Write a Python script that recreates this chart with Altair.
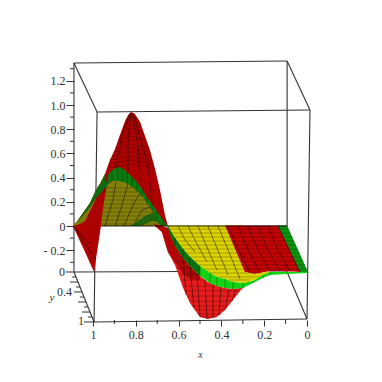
import altair as alt
import pandas as pd

# ---- readings, in axis units (x along the front axis, z up the vertical axis)
FRAME = [
    ([1.089, 0.093], [1.347, 1.364]), ([0.981, -0.014], [0.942, 0.959]),
    ([1.089, 0.981], [1.347, 0.942]), ([0.093, -0.014], [1.364, 0.959]),
    ([1.089, 1.089], [1.347, -0.380]), ([0.981, 0.995], [0.942, -0.793]),
    ([0.093, 0.093], [1.364, -0.380]), ([-0.014, 0.0], [0.959, -0.769]),
    ([1.089, 0.093], [-0.380, -0.372]), ([0.995, 0.0], [-0.793, -0.769]),
    ([1.089, 0.995], [-0.380, -0.793]), ([0.093, 0.0], [-0.380, -0.769]),
]
X_TICKS = [0, 0.2, 0.4, 0.6, 0.8, 1]
X_MINOR = [0.1, 0.3, 0.5, 0.7, 0.9]
Z_TICKS = [-0.2, 0, 0.2, 0.4, 0.6, 0.8, 1.0, 1.2]
Z_MINOR = [-0.3, -0.1, 0.1, 0.3, 0.5, 0.7, 0.9, 1.1, 1.3]
DEPTH_AXIS_X = [1.089, 1.079, 1.070, 1.061, 1.051, 1.042, 1.033, 1.023, 1.014, 1.005, 0.995]
DEPTH_END_X = [1.126, 1.098, 1.107, 1.080, 1.088, 1.061, 1.070, 1.042, 1.051, 1.024, 1.042]
DEPTH_Z = [-0.380, -0.421, -0.463, -0.504, -0.545, -0.587, -0.628, -0.669, -0.711, -0.752, -0.793]
DEPTH_LABELS = ["0", "0.4", "1", "y"]
DEPTH_LABEL_X = [1.131, 1.098, 1.042, 1.192]
DEPTH_LABEL_Z = [-0.380, -0.545, -0.785, -0.595]

PEAK_X = [1.093, 1.070, 1.037, 1.014, 0.995, 0.986, 0.963, 0.944, 0.921, 0.897, 0.874, 0.850, 0.836, 0.822, 0.804, 0.780, 0.757, 0.734, 0.710, 0.687, 0.664, 0.650]
PEAK_TOP = [0, 0.050, 0.132, 0.190, 0.264, 0.298, 0.364, 0.430, 0.545, 0.636, 0.752, 0.868, 0.917, 0.942, 0.926, 0.860, 0.744, 0.628, 0.471, 0.298, 0.091, 0]
PEAK_BOT = [0, -0.091, -0.215, -0.306, -0.380, -0.273, 0, 0, 0, 0, 0, 0, 0, 0, 0, 0, 0, 0, 0, 0, 0, 0]

OLIVE_L_X = [1.089, 1.061, 1.037, 1.014, 0.986]
OLIVE_L_TOP = [0.008, 0.066, 0.107, 0.157, 0.231]
OLIVE_L_BOT = [0, 0.017, 0.041, 0.124, 0.223]
SLIVER_X = [1.070, 1.037, 1.014, 0.986, 0.967, 0.944]
SLIVER_TOP = [0.050, 0.132, 0.190, 0.298, 0.347, 0.430]
SLIVER_BOT = [0.041, 0.107, 0.157, 0.231, 0.264, 0.314]

OLIVE_X = [0.963, 0.953, 0.939, 0.930, 0.907, 0.874, 0.850, 0.827, 0.804, 0.780, 0.757, 0.734, 0.710, 0.687, 0.678]
OLIVE_TOP = [0, 0.149, 0.298, 0.347, 0.372, 0.372, 0.364, 0.339, 0.306, 0.273, 0.215, 0.157, 0.083, 0.017, 0]

DOME_X = [0.944, 0.930, 0.911, 0.883, 0.864, 0.841, 0.818, 0.794, 0.771, 0.748, 0.724, 0.701, 0.673, 0.650]
DOME_TOP = [0.314, 0.421, 0.463, 0.488, 0.479, 0.446, 0.405, 0.364, 0.306, 0.240, 0.182, 0.124, 0.041, 0]
DOME_BOT = [0.289, 0.347, 0.372, 0.372, 0.368, 0.351, 0.322, 0.289, 0.248, 0.190, 0.132, 0.058, 0, 0]

WEDGE_X = [0.827, 0.790, 0.757, 0.724, 0.701, 0.678, 0.654]
WEDGE_TOP = [0, 0.041, 0.083, 0.107, 0.107, 0.066, 0]
WEDGE_BOT = [0, 0, 0.017, 0.041, 0.033, 0, 0]

YELLOW_X = [0.650, 0.617, 0.579, 0.547, 0.500, 0.453, 0.421, 0.383, 0.346, 0.290]
YELLOW_TOP = [0.005, 0.005, 0.005, 0.005, 0.005, 0.005, 0.005, 0.005, 0.005, 0.005]
YELLOW_BOT = [0, -0.099, -0.190, -0.256, -0.331, -0.388, -0.421, -0.438, -0.463, -0.471]

RED_X = [0.383, 0.290, 0.243, 0.173, 0.126, 0.023]
RED_TOP = [0.005, 0.005, 0.005, 0.005, 0.005, -0.380]
RED_BOT = [0.005, -0.380, -0.397, -0.372, -0.372, -0.380]

PATCH_X = [0.290, 0.252, 0.220, 0.173]
PATCH_TOP = [-0.380, -0.397, -0.388, -0.372]
PATCH_BOT = [-0.471, -0.455, -0.421, -0.380]

STRIP_X = [0.136, 0.093, 0.033, -0.005]
STRIP_TOP = [0.005, 0.005, -0.231, -0.380]
STRIP_BOT = [0.005, -0.149, -0.380, -0.380]

BAND_X = [0.650, 0.617, 0.579, 0.547, 0.500, 0.453, 0.421, 0.383, 0.346, 0.299, 0.252, 0.206, 0.173, 0.093, -0.005]
BAND_TOP = [0, -0.099, -0.190, -0.256, -0.331, -0.388, -0.421, -0.438, -0.463, -0.471, -0.455, -0.405, -0.380, -0.380, -0.380]
BAND_BOT = [-0.017, -0.165, -0.264, -0.331, -0.413, -0.471, -0.496, -0.512, -0.521, -0.512, -0.471, -0.430, -0.405, -0.397, -0.388]

LOBE_X = [0.710, 0.678, 0.650, 0.617, 0.579, 0.547, 0.500, 0.463, 0.421, 0.383, 0.346, 0.313, 0.290]
LOBE_TOP = [0.017, 0, -0.017, -0.116, -0.264, -0.331, -0.413, -0.463, -0.496, -0.512, -0.521, -0.512, -0.488]
LOBE_BOT = [0, -0.050, -0.215, -0.322, -0.512, -0.636, -0.752, -0.769, -0.752, -0.694, -0.612, -0.537, -0.496]
LOBE_DARK_X = [0.710, 0.678, 0.650, 0.617, 0.579, 0.547, 0.500]
LOBE_DARK_TOP = [0.017, 0, -0.017, -0.116, -0.264, -0.331, -0.413]
LOBE_DARK_BOT = [0, -0.050, -0.215, -0.298, -0.397, -0.438, -0.446]

# mesh rows: z level with its left and right x
PEAK_ROWS = [(0.893, 0.847, 0.797), (0.860, 0.853, 0.780), (0.826, 0.860, 0.771), (0.793, 0.869, 0.766),
             (0.760, 0.876, 0.759), (0.727, 0.883, 0.754), (0.694, 0.890, 0.748), (0.661, 0.897, 0.741),
             (0.628, 0.902, 0.734), (0.595, 0.911, 0.729), (0.562, 0.921, 0.724), (0.529, 0.928, 0.717),
             (0.496, 0.932, 0.713)]
OLIVE_ROWS = [(0.314, 0.939, 0.818), (0.281, 0.944, 0.785), (0.248, 0.946, 0.769), (0.215, 0.949, 0.757),
              (0.182, 0.951, 0.743), (0.149, 0.953, 0.731), (0.116, 0.956, 0.722), (0.083, 0.958, 0.710),
              (0.050, 0.960, 0.699), (0.017, 0.963, 0.687)]
FLAT_ROWS = [(-0.025, 0.645, 0.084), (-0.058, 0.636, 0.075), (-0.091, 0.619, 0.068), (-0.124, 0.603, 0.061),
             (-0.157, 0.591, 0.051), (-0.190, 0.579, 0.042), (-0.223, 0.561, 0.033), (-0.256, 0.547, 0.026),
             (-0.289, 0.526, 0.016), (-0.322, 0.505, 0.009), (-0.355, 0.481, 0.0), (-0.388, 0.453, 0.210),
             (-0.421, 0.421, 0.206), (-0.446, 0.364, 0.266)]
LOBE_ROWS = [(-0.298, 0.626, 0.500), (-0.347, 0.610, 0.453), (-0.397, 0.596, 0.383), (-0.446, 0.586, 0.313),
             (-0.496, 0.579, 0.290), (-0.537, 0.572, 0.313), (-0.579, 0.563, 0.332), (-0.620, 0.551, 0.346),
             (-0.661, 0.540, 0.369), (-0.694, 0.528, 0.383), (-0.727, 0.514, 0.400), (-0.752, 0.500, 0.421)]

# long mesh lines: x readings, z readings
BACK_LINES = [
    ([0.893, 0.864, 0.827], [0.479, 0.752, 0.934]), ([0.836, 0.836, 0.822], [0.446, 0.711, 0.934]),
    ([0.780, 0.790, 0.818], [0.364, 0.669, 0.934]), ([0.724, 0.743, 0.813], [0.182, 0.504, 0.934]),
    ([1.093, 0.986], [0, -0.273]), ([1.093, 1.014], [0, -0.150]),
]
OLIVE_LINES = [
    ([0.944, 0.907, 0.893], [0, 0.215, 0.364]), ([0.897, 0.864, 0.836], [0, 0.174, 0.355]),
    ([0.855, 0.813, 0.780], [0, 0.174, 0.273]), ([0.813, 0.771, 0.734], [0, 0.132, 0.157]),
    ([0.771, 0.734, 0.710], [0, 0.066, 0.083]),
]
FLAT_LINES = [
    ([0.603, 0.570, 0.523], [0, -0.116, -0.215]), ([0.556, 0.519, 0.467], [0, -0.132, -0.298]),
    ([0.509, 0.472, 0.421], [0, -0.157, -0.364]), ([0.463, 0.421, 0.369], [0, -0.182, -0.405]),
    ([0.416, 0.369, 0.313], [0, -0.198, -0.438]), ([0.369, 0.322, 0.266], [0, -0.198, -0.380]),
    ([0.322, 0.276, 0.220], [0, -0.198, -0.380]), ([0.276, 0.229, 0.173], [0, -0.198, -0.372]),
    ([0.229, 0.182, 0.126], [0, -0.198, -0.372]), ([0.182, 0.136, 0.079], [0, -0.198, -0.380]),
    ([0.136, 0.084, 0.033], [0, -0.198, -0.380]),
]
LOBE_LINES = [
    ([0.579, 0.565], [-0.264, -0.570]), ([0.547, 0.528], [-0.331, -0.678]), ([0.514, 0.500], [-0.388, -0.752]),
    ([0.477, 0.467], [-0.446, -0.769]), ([0.439, 0.439], [-0.479, -0.760]), ([0.402, 0.411], [-0.504, -0.736]),
    ([0.364, 0.383], [-0.521, -0.694]), ([0.332, 0.350], [-0.521, -0.620]),
]
BACK_EDGE = ([0.963, 0.093], [0, 0])

SERIF = "Liberation Serif"
TEXT = "#333333"
XS = alt.Scale(domain=[1.3972, -0.3131], nice=False, zero=False)
ZS = alt.Scale(domain=[-1.2231, 1.8017], nice=False, zero=False)
X_AXIS = alt.Axis(
    values=X_TICKS, orient="bottom", offset=-54, domain=False, grid=False, tickSize=6, tickColor=TEXT,
    labelFont=SERIF, labelFontSize=12, labelColor=TEXT, labelPadding=3, labelFlush=False,
    labelExpr="datum.value==0?'0':datum.value==1?'1':format(datum.value,'.1f')",
    titleFont=SERIF, titleFontSize=10, titleFontStyle="italic", titleFontWeight="normal",
    titleColor=TEXT, titlePadding=9, titleX=192)
Z_AXIS = alt.Axis(
    values=Z_TICKS, orient="left", offset=-66, domain=False, grid=False, tickSize=8, tickColor=TEXT,
    labelFont=SERIF, labelFontSize=12, labelColor=TEXT, labelPadding=1,
    labelExpr="datum.value==0?'0':datum.value<0?'- 0.2':format(datum.value,'.1f')")
PX = alt.X("x:Q", scale=XS, axis=X_AXIS, title="x")
PZ = alt.Y("z:Q", scale=ZS, axis=Z_AXIS, title=None)


def area(xs, top, bot, color):
    df = pd.DataFrame({"x": xs, "z": top, "z2": bot})
    return alt.Chart(df).mark_area(color=color, orient="vertical", opacity=1).encode(
        x=PX, y=PZ, y2=alt.Y2("z2:Q"))


def polylines(items, color="#000000", width=0.8, opacity=0.6):
    rows = []
    for i, (xs, zs) in enumerate(items):
        rows += [{"id": i, "o": k, "x": a, "z": b} for k, (a, b) in enumerate(zip(xs, zs))]
    return alt.Chart(pd.DataFrame(rows)).mark_line(
        color=color, strokeWidth=width, opacity=opacity).encode(
        x=PX, y=PZ, detail="id:N", order="o:Q")


def arches(rows, rise=0.0, width=0.7, opacity=0.3):
    items = [([l, (l + r) / 2, r], [z - rise, z + rise, z - rise]) for z, l, r in rows]
    return polylines(items, width=width, opacity=opacity)


def crossbars(xs, top, bot, opacity=0.45):
    df = pd.DataFrame({"x": xs, "z": top, "z2": bot})
    return alt.Chart(df).mark_rule(color="#000000", strokeWidth=0.7, opacity=opacity).encode(
        x=PX, y=PZ, y2=alt.Y2("z2:Q"))


def ticks(xa, xb, za, zb, width=1.0):
    df = pd.DataFrame({"x": xa, "x2": xb, "z": za, "z2": zb})
    return alt.Chart(df).mark_rule(color=TEXT, strokeWidth=width).encode(
        x=PX, x2=alt.X2("x2:Q"), y=PZ, y2=alt.Y2("z2:Q"))


x_minor = ticks(X_MINOR, X_MINOR, [-0.777] * 5, [-0.810] * 5)
z_minor = ticks([1.089] * 9, [1.108] * 9, Z_MINOR, Z_MINOR)
depth_ticks = ticks(DEPTH_AXIS_X, DEPTH_END_X, DEPTH_Z, DEPTH_Z)
frame = polylines(FRAME, color="#333333", width=1.1, opacity=1)

labels = pd.DataFrame({"x": DEPTH_LABEL_X, "z": DEPTH_LABEL_Z, "t": DEPTH_LABELS})
depth_text = alt.Chart(labels).transform_filter("datum.t != 'y'").mark_text(
    font=SERIF, fontSize=12, color=TEXT, align="right", baseline="middle").encode(x=PX, y=PZ, text="t:N")
y_text = alt.Chart(labels).transform_filter("datum.t == 'y'").mark_text(
    font=SERIF, fontSize=11, fontStyle="italic", color=TEXT, align="center", baseline="middle").encode(
    x=PX, y=PZ, text="t:N")

chart = alt.layer(
    frame, x_minor, z_minor, depth_ticks, depth_text, y_text,
    area(PEAK_X, PEAK_TOP, PEAK_BOT, "#ad0202"),
    arches(PEAK_ROWS, rise=0.017),
    polylines(BACK_LINES, width=0.8, opacity=0.5),
    area(OLIVE_L_X, OLIVE_L_TOP, OLIVE_L_BOT, "#7f7a00"),
    area(SLIVER_X, SLIVER_TOP, SLIVER_BOT, "#0f6a10"),
    area(OLIVE_X, OLIVE_TOP, [0] * len(OLIVE_X), "#85800a"),
    arches(OLIVE_ROWS, opacity=0.35),
    polylines(OLIVE_LINES, opacity=0.6),
    area(WEDGE_X, WEDGE_TOP, WEDGE_BOT, "#1f6410"),
    area(DOME_X, DOME_TOP, DOME_BOT, "#0a7d10"),
    crossbars(DOME_X, DOME_TOP, DOME_BOT),
    area(LOBE_X, LOBE_TOP, LOBE_BOT, "#e81c1c"),
    area(LOBE_DARK_X, LOBE_DARK_TOP, LOBE_DARK_BOT, "#b00606"),
    arches(LOBE_ROWS, rise=0.0, opacity=0.35),
    polylines(LOBE_LINES, opacity=0.6),
    area(YELLOW_X, YELLOW_TOP, YELLOW_BOT, "#dcd200"),
    area(RED_X, RED_TOP, RED_BOT, "#c40404"),
    area(PATCH_X, PATCH_TOP, PATCH_BOT, "#dcd200"),
    area(STRIP_X, STRIP_TOP, STRIP_BOT, "#0a9410"),
    arches(FLAT_ROWS, opacity=0.35),
    polylines(FLAT_LINES, opacity=0.6),
    area(BAND_X, BAND_TOP, BAND_BOT, "#12d414"),
    area(BAND_X[:5], BAND_TOP[:5], BAND_BOT[:5], "#0a7010"),
    crossbars(BAND_X, BAND_TOP, BAND_BOT),
    polylines([BACK_EDGE], width=1.1, opacity=0.85),
).properties(
    width=366, height=366, padding=0, autosize=alt.AutoSizeParams(type="none")
).configure_view(stroke=None)

chart.save("out.html", embed_options={"renderer": "svg", "actions": False})
